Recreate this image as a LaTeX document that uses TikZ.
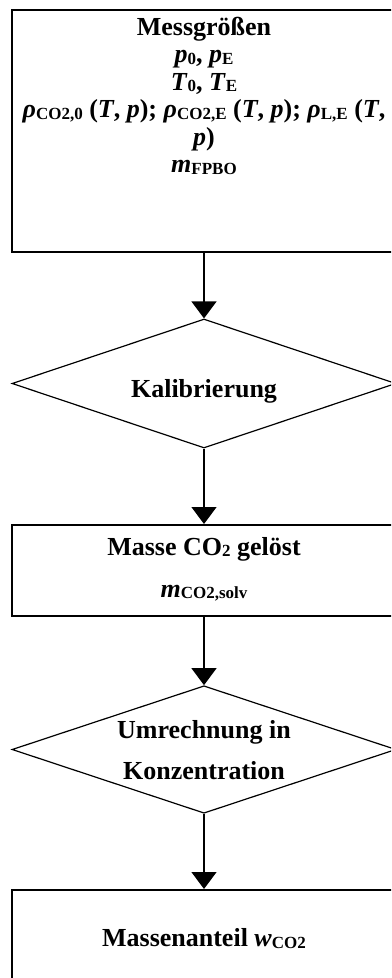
\documentclass[tikz,border=0pt]{standalone}
\usepackage{fontspec}
\setmainfont{Liberation Serif}
\usetikzlibrary{shapes.geometric,arrows.meta}
\newcommand{\lsub}[1]{\raisebox{-1.5bp}{\fontsize{17bp}{17bp}\selectfont\upshape #1}}
\newcommand{\iv}[1]{\textit{#1}}
\begin{document}
\begin{tikzpicture}[x=1bp,y=-1bp,
  font=\fontsize{26bp}{27.5bp}\selectfont\bfseries,
  boxstyle/.style={draw, line width=2bp, rectangle, inner sep=0pt, minimum width=384bp},
  decstyle/.style={draw, line width=1.2bp, diamond, inner sep=0pt, minimum width=384bp},
  txt/.style={anchor=base, inner sep=0pt},
  flow/.style={line width=1.2bp, -{Triangle[length=17bp,width=25bp]}}]
\useasboundingbox (0,0) rectangle (391,978);
\clip (0,0) rectangle (391,978);
\node[boxstyle, minimum height=241.5bp] (b1) at (204,130.75) {};
\node[decstyle, minimum height=129bp] (d1) at (204,383.5) {};
\node[boxstyle, minimum height=91bp] (b2) at (204,570.5) {};
\node[decstyle, minimum height=127.5bp] (d2) at (204,749.5) {};
\node[boxstyle, minimum height=140bp] (b3) at (204,960) {};
\draw[flow] (b1.south) -- (d1.north);
\draw[flow] (d1.south) -- (b2.north);
\draw[flow] (b2.south) -- (d2.north);
\draw[flow] (d2.south) -- (b3.north);
\node[txt] (t1) at (204,35.3) {Messgrößen};
\node[txt] (t2) at (204,62.5) {\iv{p}\lsub{0}, \iv{p}\lsub{E}};
\node[txt] (t3) at (204,90) {\iv{T}\lsub{0}, \iv{T}\lsub{E}};
\node[txt] (t4) at (204,117.5) {\iv{ρ}\lsub{CO2,0} (\iv{T}, \iv{p}); \iv{ρ}\lsub{CO2,E} (\iv{T}, \iv{p}); \iv{ρ}\lsub{L,E} (\iv{T},};
\node[txt] (t5) at (204,145) {\iv{p})};
\node[txt] (t6) at (204,172.7) {\iv{m}\lsub{FPBO}};
\node[txt] (k1) at (204,397) {Kalibrierung};
\node[txt] (m1) at (204,555) {Masse CO\lsub{2} gelöst};
\node[txt] (m2) at (204,597) {\iv{m}\lsub{CO2,solv}};
\node[txt] (u1) at (204,738) {Umrechnung in};
\node[txt] (u2) at (204,779) {Konzentration};
\node[txt] (w1) at (204,946.7) {Massenanteil \iv{w}\lsub{CO2}};
\end{tikzpicture}
\end{document}
